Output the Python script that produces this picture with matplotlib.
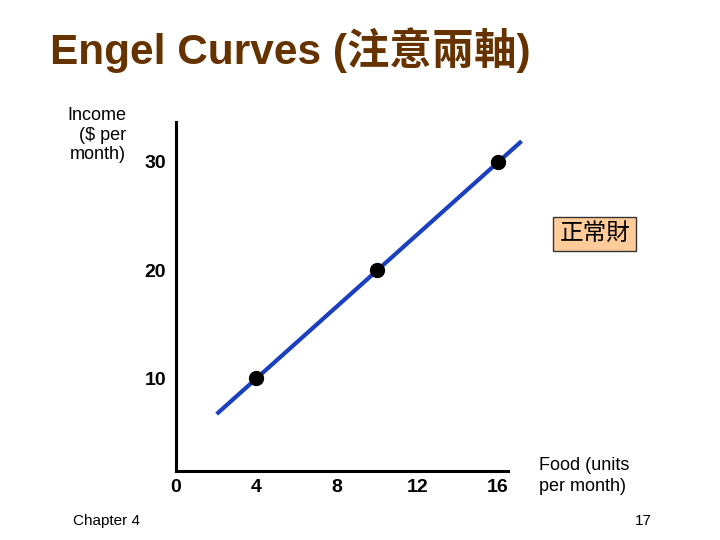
import matplotlib.pyplot as plt

plt.rcParams['font.family'] = ['Liberation Sans', 'Noto Sans CJK TC', 'DejaVu Sans']

# === Datos ===
food = [4, 10, 16]          # unidades de comida por mes
income = [10, 20, 30]       # ingreso ($ por mes)
line_x = [2.1, 17.1]        # extremos de la curva de Engel
line_y = [6.8, 31.8]
x_ticks = [0, 4, 8, 12, 16]
y_ticks = [10, 20, 30]

fig = plt.figure(figsize=(7.2, 5.4), dpi=100)
ax = fig.add_axes([0.2444, 0.1278, 0.4611, 0.6463])

# === Curva y puntos ===
ax.plot(line_x, line_y, color='#1a3fbf', linewidth=3, clip_on=False, zorder=2)
ax.plot(food, income, 'o', color='black', markersize=10, clip_on=False, zorder=3)

ax.set_xlim(0, 16.5)
ax.set_ylim(1.4, 33.7)

for s in ['top', 'right']:
    ax.spines[s].set_visible(False)
for s in ['left', 'bottom']:
    ax.spines[s].set_linewidth(2.2)

ax.set_xticks(x_ticks)
ax.set_xticklabels([str(t) for t in x_ticks], fontsize=14, fontweight='bold')
ax.set_yticks(y_ticks)
ax.set_yticklabels([str(t) for t in y_ticks], fontsize=14, fontweight='bold')
ax.tick_params(axis='both', length=0)
ax.tick_params(axis='x', pad=6)
ax.tick_params(axis='y', pad=7)

# === Textos ===
fig.text(0.07, 0.882, "Engel Curves (注意兩軸)", fontsize=30.5, fontweight='bold',
         color='#663300', ha='left', va='baseline')
fig.text(0.175, 0.802, "Income\n($ per\nmonth)", fontsize=13, ha='right', va='top',
         multialignment='right', linespacing=1.2)
fig.text(0.749, 0.153, "Food (units\nper month)", fontsize=13, ha='left', va='top',
         linespacing=1.25)
fig.text(0.826, 0.567, "正常財", fontsize=17, ha='center', va='center',
         bbox=dict(boxstyle='square,pad=0.25', facecolor='#ffcc99', edgecolor='#333333',
                   linewidth=1))
fig.text(0.101, 0.036, "Chapter 4", fontsize=11, ha='left', va='center')
fig.text(0.905, 0.036, "17", fontsize=11, ha='right', va='center')

plt.savefig("out.png", dpi=100)
